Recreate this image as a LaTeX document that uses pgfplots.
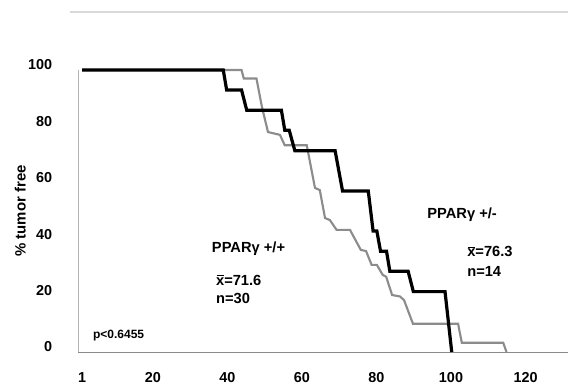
\documentclass[border=0pt]{standalone}
\usepackage{fontspec}
\setmainfont{Liberation Sans}
\usepackage{pgfplots}
\pgfplotsset{compat=1.18}
\definecolor{kmgray}{HTML}{8C8C8C}
\definecolor{axgray}{HTML}{8A8A8A}
\newcommand\xbar{\makebox[0pt][l]{\hspace{0.04em}\raisebox{0.62em}{\rule{0.48em}{0.075em}}}x}
\begin{document}
\begin{tikzpicture}
\path[use as bounding box] (-58.73pt,-26.25pt) rectangle (367.28pt,264pt);
\begin{axis}[
  scale only axis,
  width=367.3pt, height=211.5pt,
  xmin=0, xmax=131.4, ymin=0, ymax=100,
  axis x line*=bottom,
  axis y line*=left,
  x axis line style={axgray, line width=0.7pt},
  y axis line style={gray!60, line width=0.5pt},
  major tick length=0pt,
  xtick={1,20,40,60,80,100,120},
  ytick={0,20,40,60,80,100},
  /pgf/number format/assume math mode=true,
  tick label style={font=\bfseries\fontsize{10.8}{12}\selectfont},
  xticklabel style={anchor=north, yshift=-12pt},
  yticklabel style={anchor=east, inner sep=0pt, yshift=3.75pt},
  yticklabel={\pgfmathprintnumber{\tick}\hspace*{19.5pt}},
  ylabel={\% tumor free},
  ylabel style={font=\bfseries\fontsize{11.2}{13}\selectfont, at={(axis description cs:-0.1184,0.5)}, anchor=center},
  clip=false,
]
\addplot[kmgray, line width=1.6pt] coordinates {
(1,100) (43.8,100) (44.4,97) (47.8,97) (49.3,86.7) (50.9,78) (54.1,77) (55.4,73.3) (61.3,73.3) (63.5,58.2) (64.8,57.4) (66.2,47.5) (67.5,46.8) (69.3,43.3) (72.9,43.3) (75.8,36.2) (77.2,35.8) (78.7,30.9) (80.1,30.9) (81.7,27.3) (82.6,26.7) (84.2,20.2) (86.3,19.7) (87.4,18.4) (89.8,10) (101.9,10) (102.9,3.3) (114,3.3) (114.9,0)
};
\addplot[black, line width=2.4pt] coordinates {
(1,100) (38.9,100) (39.8,92.9) (43.8,92.9) (45.2,85.7) (54.5,85.7) (55.4,78.6) (56.6,78.6) (58.1,71.4) (68.9,71.4) (70.9,57.1) (77.8,57.1) (79.1,42.9) (80.1,42.9) (81.1,35.7) (82.7,35.7) (83.6,28.6) (88.5,28.6) (89.9,21.4) (98.4,21.4) (100.2,0)
};
\draw[gray!30, line width=1pt] (axis cs:-2.3,120.6) -- (axis cs:131.4,120.6);
\begin{scope}[every node/.style={anchor=west, inner sep=0pt, font=\bfseries\fontsize{11}{13}\selectfont}]
\node at (axis cs:35.8,36.5) {PPARγ +/+};
\node at (axis cs:36.9,25.5) {\xbar=71.6};
\node at (axis cs:36.9,19.1) {n=30};
\node at (axis cs:93.6,48.6) {PPARγ +/-};
\node at (axis cs:104.3,35.5) {\xbar=76.3};
\node at (axis cs:104.3,28.7) {n=14};
\node[font=\bfseries\fontsize{9}{11}\selectfont] at (axis cs:3.9,6.0) {p<0.6455};
\end{scope}
\end{axis}
\end{tikzpicture}
\end{document}
